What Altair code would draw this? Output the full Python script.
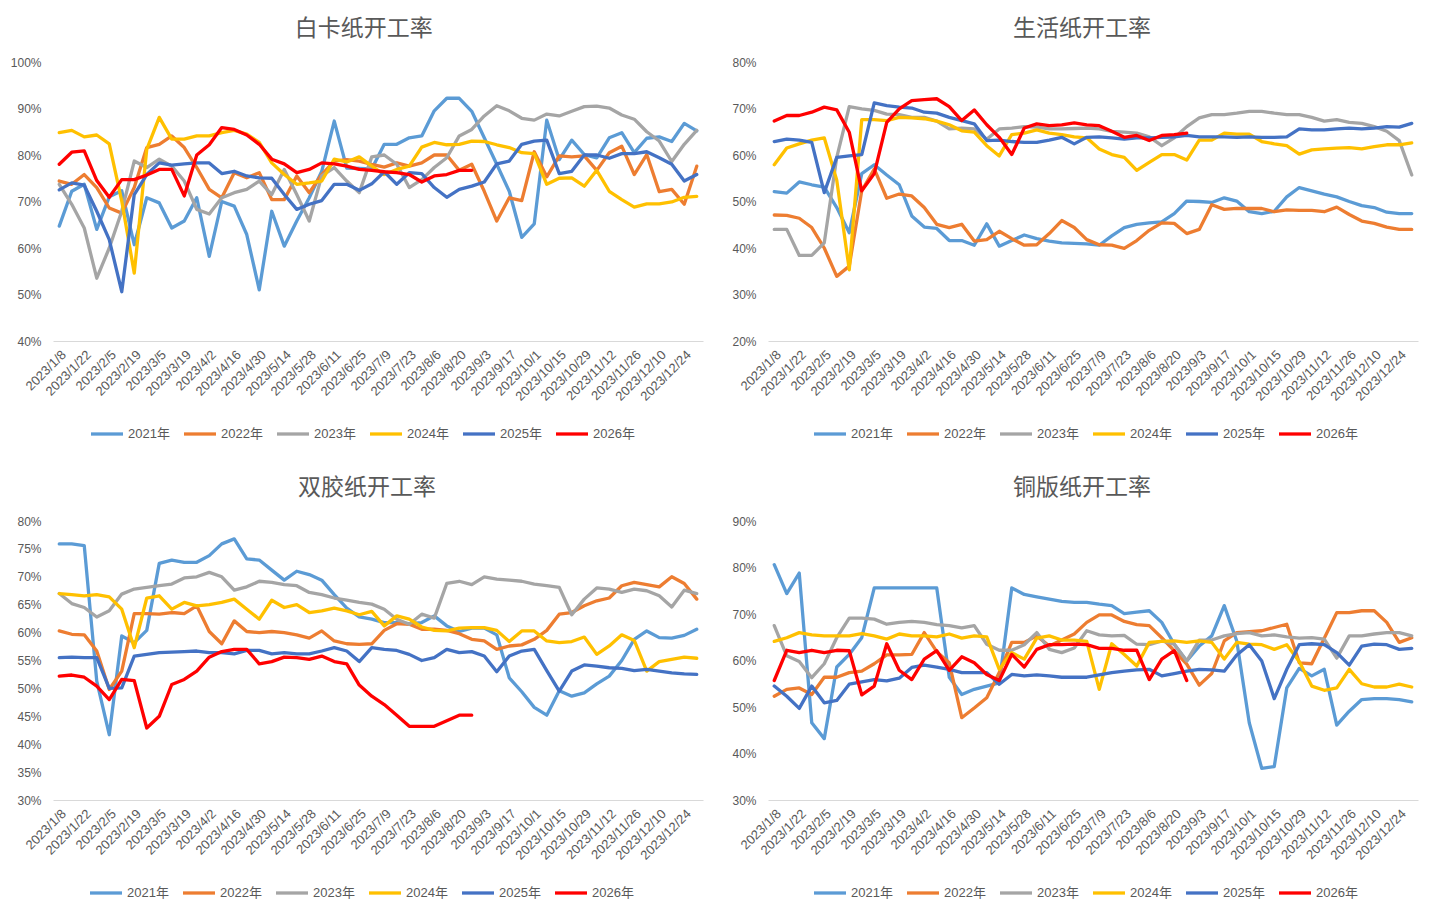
import altair as alt
import pandas as pd

dates = [f"{d.year}/{d.month}/{d.day}" for d in pd.date_range("2023-01-08", periods=52, freq="7D")]
tick_dates = dates[::2]
years = ["2021年", "2022年", "2023年", "2024年", "2025年", "2026年"]
colors = ["#5B9BD5", "#ED7D31", "#A5A5A5", "#FFC000", "#4472C4", "#FF0000"]

# 白卡纸开工率
bk_2021 = [64.7,72.2,73.7,64.0,71.0,72.3,60.7,70.8,69.7,64.3,65.8,70.8,58.2,70.0,69.0,62.9,51.0,67.9,60.4,65.8,70.8,76.5,87.3,77.2,77.1,77.0,82.3,82.3,83.7,84.1,89.5,92.2,92.2,89.4,83.7,78.0,72.2,62.3,65.2,87.5,79.0,83.2,80.1,79.4,83.7,84.8,80.5,83.6,83.9,82.9,86.8,85.2]
bk_2022 = [74.4,73.7,75.8,73.0,68.6,67.5,73.0,81.6,82.3,84.1,81.6,77.3,72.6,70.8,76.2,75.1,76.2,70.4,70.4,75.5,71.9,75.8,78.7,79.0,78.7,78.0,77.4,78.3,77.6,78.3,80.0,80.0,76.7,78.0,72.2,65.8,70.8,70.2,80.7,75.3,79.8,79.6,79.8,76.7,80.5,81.9,75.8,80.1,72.1,72.6,69.4,77.6]
bk_2023 = [73.7,69.4,64.3,53.5,60.0,67.9,78.7,77.3,79.1,77.6,74.4,68.3,67.3,70.8,71.9,72.6,74.4,71.5,76.9,71.5,65.8,75.5,77.3,74.4,71.9,79.6,80.0,78.0,73.0,74.7,77.3,79.4,84.1,85.5,88.4,90.6,89.5,87.9,87.5,88.8,88.4,89.4,90.4,90.5,90.1,88.6,87.7,85.0,83.0,78.6,82.3,85.3]
bk_2024 = [84.8,85.3,83.9,84.3,82.4,70.1,54.6,81.2,88.1,83.4,83.4,84.1,84.1,84.8,85.3,84.5,82.7,78.3,75.8,73.7,74.0,74.4,79.1,78.5,79.6,77.6,75.8,76.9,77.6,81.7,82.7,82.2,82.3,83.0,82.9,82.2,81.6,80.5,80.3,73.7,75.0,75.1,73.3,76.7,72.2,70.4,68.8,69.5,69.5,69.9,70.9,71.1]
bk_2025 = [72.5,74.0,73.5,67.9,61.8,50.6,71.5,75.8,78.3,77.8,78.1,78.3,78.3,76.0,76.5,75.5,75.1,75.0,71.5,68.3,69.4,70.2,73.7,73.7,72.4,73.8,76.4,73.7,76.2,76.0,73.0,70.9,72.6,73.3,74.2,78.1,78.7,82.3,83.0,83.2,76.0,76.5,80.0,80.0,79.3,80.3,80.3,80.7,79.4,78.0,74.4,75.8]
bk_2026 = [78.0,80.6,80.9,74.5,70.9,74.7,74.7,75.7,76.9,76.9,71.2,80.0,82.2,85.9,85.5,84.3,82.3,79.1,78.1,76.2,76.9,78.3,78.1,77.6,76.9,76.7,76.4,76.2,75.8,74.2,75.5,75.8,76.7,76.7]

# 生活纸开工率
sh_2021 = [52.1,51.8,54.2,53.6,53.1,48.7,43.3,56.0,57.9,55.7,53.6,46.9,44.5,44.2,41.6,41.6,40.6,45.2,40.4,41.6,42.8,42.0,41.5,41.1,41.0,40.9,40.6,42.6,44.4,45.1,45.4,45.6,47.4,50.1,50.0,49.8,50.8,50.1,47.8,47.4,47.9,51.0,53.0,52.3,51.6,51.0,50.0,49.1,48.7,47.7,47.4,47.4]
sh_2022 = [47.1,47.0,46.4,44.4,40.0,33.9,36.1,52.3,57.0,50.7,51.6,51.2,48.7,45.1,44.4,45.1,41.5,41.8,43.6,42.0,40.6,40.7,43.1,45.9,44.4,41.8,40.7,40.6,39.9,41.6,43.8,45.4,45.3,43.1,44.0,49.3,48.3,48.5,48.5,48.5,47.8,48.2,48.1,48.1,47.8,48.8,47.2,45.8,45.3,44.5,44.0,44.0]
sh_2023 = [44.0,44.0,38.4,38.4,41.1,59.5,70.4,69.9,69.6,68.8,68.7,68.1,68.1,67.3,65.6,65.8,65.6,63.4,65.6,65.8,66.1,66.0,65.6,65.6,65.7,65.8,65.6,65.1,64.9,64.7,63.9,62.0,63.7,66.1,68.0,68.7,68.7,69.0,69.4,69.4,69.0,68.7,68.7,68.1,67.3,67.6,67.0,66.8,66.1,65.1,63.1,55.7]
sh_2024 = [57.9,61.5,62.4,63.2,63.7,54.6,35.3,67.6,67.6,67.4,68.1,68.0,67.8,67.3,66.5,65.2,64.9,62.0,59.8,64.4,64.7,65.4,64.7,64.4,63.9,63.7,61.3,60.1,59.5,56.7,58.4,60.1,60.1,58.9,63.2,63.2,64.7,64.5,64.5,62.9,62.4,62.0,60.2,61.1,61.3,61.5,61.6,61.3,61.8,62.2,62.2,62.6]
sh_2025 = [62.9,63.4,63.2,62.7,51.9,59.5,59.8,60.1,71.2,70.6,70.3,70.1,69.2,69.0,68.1,67.4,66.7,63.1,63.2,62.9,62.7,62.7,63.2,63.8,62.4,63.8,63.9,63.7,63.4,63.7,63.7,63.8,63.9,64.2,63.9,63.9,63.9,63.8,63.9,63.8,63.8,63.9,65.6,65.4,65.4,65.6,65.8,65.6,65.8,66.1,66.0,66.8]
sh_2026 = [67.3,68.5,68.5,69.2,70.3,69.7,64.9,52.3,56.0,67.0,69.9,71.7,71.9,72.1,70.4,67.4,69.7,66.5,63.8,60.1,65.8,66.7,66.3,66.5,66.9,66.5,66.3,65.1,63.8,64.2,63.1,64.2,64.4,64.7]

# 双胶纸开工率
sj_2021 = [75.9,75.9,75.6,51.3,41.7,59.4,58.2,60.4,72.4,73.0,72.6,72.6,73.8,75.9,76.8,73.2,73.0,71.2,69.4,71.0,70.4,69.4,66.8,64.4,62.8,62.4,61.8,61.8,61.6,61.8,63.0,61.2,60.2,60.8,60.8,59.6,51.9,49.4,46.6,45.2,49.6,48.6,49.2,50.8,52.2,55.0,58.8,60.3,59.1,59.0,59.5,60.6]
sj_2022 = [60.3,59.7,59.6,56.7,49.8,53.1,63.4,63.4,63.3,63.6,63.4,64.8,60.2,58.0,62.1,60.2,60.0,60.2,60.0,59.6,59.0,60.3,58.5,58.0,57.9,58.0,60.4,61.6,61.5,60.6,60.6,60.4,59.8,58.8,58.5,57.0,57.6,57.8,58.8,60.4,63.3,63.6,64.8,65.7,66.2,68.4,69.0,68.6,68.2,70.0,68.8,66.0]
sj_2023 = [67.0,65.2,64.5,62.8,63.9,66.9,67.8,68.1,68.4,68.7,69.8,70.0,70.8,70.0,67.6,68.2,69.2,69.0,68.6,68.4,67.2,66.8,66.2,65.8,65.4,65.1,64.2,62.4,61.5,63.3,62.6,68.8,69.2,68.6,70.0,69.6,69.4,69.2,68.7,68.4,68.1,63.2,66.0,68.0,67.8,67.2,67.8,67.5,66.6,64.6,67.6,67.0]
sj_2024 = [67.0,66.8,66.6,66.8,66.4,64.2,57.3,66.2,66.6,64.2,65.4,64.8,65.0,65.4,66.0,64.2,62.4,65.8,64.5,65.0,63.6,63.9,64.4,63.9,63.2,63.8,61.2,63.0,62.4,61.0,60.4,60.3,60.8,60.9,60.9,60.4,58.4,60.3,60.3,58.5,58.2,58.4,59.2,56.1,57.6,59.6,58.6,53.1,54.8,55.2,55.6,55.4]
sj_2025 = [55.5,55.6,55.5,55.5,50.0,50.1,55.8,56.1,56.4,56.5,56.6,56.7,56.4,56.4,56.2,56.8,56.8,56.2,56.4,56.2,56.2,56.7,57.3,56.7,54.8,57.3,57.0,56.8,56.1,55.0,55.5,57.0,56.4,56.6,55.8,53.0,55.8,56.7,57.0,53.2,49.5,53.1,54.2,54.0,53.7,53.6,53.2,53.4,53.1,52.8,52.6,52.5]
sj_2026 = [52.2,52.4,52.0,50.4,48.0,51.6,51.4,42.9,45.0,50.7,51.6,53.1,55.6,56.6,57.0,57.0,54.4,54.8,55.6,55.5,55.2,55.8,54.8,54.4,50.6,48.6,47.1,45.2,43.2,43.2,43.2,44.2,45.2,45.2]

# 铜版纸开工率
tb_2021 = [80.6,74.4,78.8,46.6,43.2,58.6,61.3,64.9,75.6,75.6,75.6,75.6,75.6,75.6,56.4,52.7,53.8,54.5,55.2,75.6,74.2,73.7,73.2,72.7,72.5,72.5,72.1,71.8,70.1,70.4,70.7,68.2,63.5,59.9,63.1,65.3,71.8,64.2,46.6,36.8,37.2,54.1,58.3,56.7,58.1,46.1,49.1,51.6,51.8,51.8,51.6,51.1]
tb_2022 = [52.3,53.8,54.1,52.7,56.4,56.4,57.4,57.7,59.3,61.2,61.2,61.3,66.0,61.9,59.5,47.7,49.8,52.0,57.4,63.9,63.9,65.3,63.1,64.4,65.7,68.2,69.8,69.8,68.4,67.7,67.5,64.9,62.1,59.2,54.7,57.2,64.2,66.0,66.2,66.4,67.1,67.8,59.5,59.3,64.8,70.3,70.3,70.7,70.7,68.2,63.9,64.9]
tb_2023 = [67.5,61.0,59.8,56.3,59.3,64.9,69.1,69.1,68.9,67.8,68.2,68.4,68.2,67.7,67.5,67.0,67.5,63.5,62.2,62.2,63.4,66.0,62.4,61.7,62.7,66.4,65.5,65.3,65.4,63.5,63.4,64.2,63.5,59.9,64.4,64.4,65.3,65.8,66.0,65.3,65.5,65.1,64.8,64.9,64.6,60.5,65.3,65.3,65.7,66.0,66.0,65.3]
tb_2024 = [64.1,64.9,66.0,65.5,65.3,65.3,65.3,65.8,65.3,64.6,65.7,65.3,65.3,65.1,65.7,64.8,65.3,65.1,58.1,61.7,60.3,64.8,65.3,64.4,64.4,64.1,53.8,63.6,61.3,58.8,63.9,64.1,64.2,63.9,64.2,63.9,60.3,63.9,63.5,63.4,62.4,63.4,59.8,54.5,53.6,54.1,58.1,55.0,54.3,54.3,54.9,54.3]
tb_2025 = [54.5,52.3,49.7,54.5,50.9,51.4,54.9,55.4,55.9,55.6,56.2,58.5,59.0,58.6,58.1,57.4,57.4,57.4,54.9,57.0,56.7,56.9,56.7,56.4,56.4,56.4,56.9,57.4,57.7,58.0,58.1,56.7,57.2,57.7,58.1,58.0,57.7,61.2,63.4,59.9,51.8,58.1,63.4,63.6,63.4,61.7,59.0,63.1,63.5,63.4,62.4,62.6]
tb_2026 = [55.7,62.2,61.7,62.2,61.7,62.2,62.1,52.6,54.5,63.6,57.9,55.9,60.3,62.1,57.9,60.8,59.5,57.0,55.7,61.3,58.6,62.4,63.4,63.4,63.5,63.4,62.6,62.6,62.2,62.2,55.9,60.3,62.1,55.7]

TEXT = "#595959"


def panel(title, series, ymin, ymax, step, legend_x):
    rows = []
    for yr, vals in zip(years, series):
        for d, v in zip(dates, vals):
            rows.append({"date": d, "year": yr, "value": v})
    df = pd.DataFrame(rows)
    ticks = list(range(ymin, ymax + 1, step))
    return (
        alt.Chart(df)
        .mark_line(strokeJoin="round", strokeCap="round")
        .encode(
            x=alt.X(
                "date:O",
                sort=dates,
                scale=alt.Scale(type="point", padding=0.5),
                axis=alt.Axis(
                    values=tick_dates, labelAngle=-45, title=None, ticks=False,
                    domainColor="#D9D9D9", domainWidth=1, labelColor=TEXT,
                    labelFontSize=13, labelPadding=7, labelOverlap=False,
                ),
            ),
            y=alt.Y(
                "value:Q",
                scale=alt.Scale(domain=[ymin, ymax], nice=False, zero=False),
                axis=alt.Axis(
                    values=ticks, labelExpr="datum.value + '%'", grid=False,
                    domain=False, ticks=False, title=None, labelPadding=12,
                    labelColor=TEXT, labelFontSize=12,
                ),
            ),
            color=alt.Color(
                "year:N",
                scale=alt.Scale(domain=years, range=colors),
                legend=alt.Legend(
                    orient="none", legendX=legend_x, legendY=354, title=None,
                    symbolType="stroke", symbolSize=1024, symbolStrokeWidth=3.5,
                    labelFontSize=13, labelColor=TEXT, labelOffset=3,
                    columnPadding=7, direction="horizontal",
                ),
            ),
            strokeWidth=alt.StrokeWidth(
                "year:N",
                scale=alt.Scale(domain=years, range=[3.3, 3.3, 3.3, 3.3, 3.3, 4.2]),
                legend=None,
            ),
        )
        .properties(
            width=650,
            height=279,
            title=alt.TitleParams(
                title, fontSize=23, color=TEXT, fontWeight="normal",
                font="Noto Sans CJK SC", offset=15, anchor="middle",
                frame="bounds", dx=7,
            ),
        )
    )


p1 = panel("白卡纸开工率", [bk_2021, bk_2022, bk_2023, bk_2024, bk_2025, bk_2026], 40, 100, 10, 36)
p2 = panel("生活纸开工率", [sh_2021, sh_2022, sh_2023, sh_2024, sh_2025, sh_2026], 20, 80, 10, 44)
p3 = panel("双胶纸开工率", [sj_2021, sj_2022, sj_2023, sj_2024, sj_2025, sj_2026], 30, 80, 5, 35)
p4 = panel("铜版纸开工率", [tb_2021, tb_2022, tb_2023, tb_2024, tb_2025, tb_2026], 30, 90, 10, 44)

row1 = alt.hconcat(p1, p2, spacing=28).resolve_scale(color="independent", strokeWidth="independent")
row2 = alt.hconcat(p3, p4, spacing=28).resolve_scale(color="independent", strokeWidth="independent")

chart = (
    alt.vconcat(row1, row2, spacing=36)
    .resolve_scale(color="independent", strokeWidth="independent")
    .properties(padding={"top": 10, "left": 2, "right": 5, "bottom": 5})
    .configure(font="Liberation Sans, Noto Sans CJK SC")
    .configure_view(stroke=None)
)

chart.save("out.html", embed_options={"renderer": "svg", "actions": False})
